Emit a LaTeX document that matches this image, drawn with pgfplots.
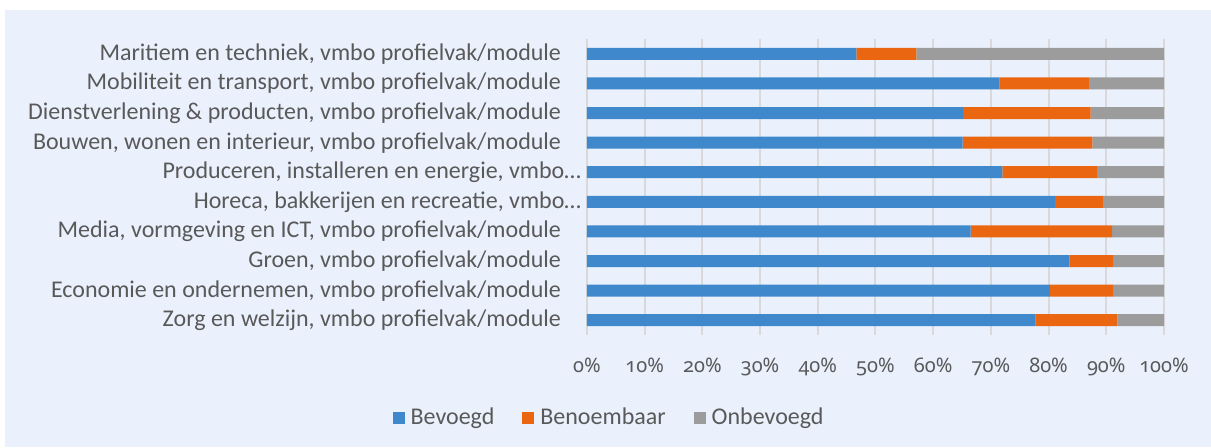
\documentclass[border=0pt]{standalone}
\usepackage{pgfplots}
\pgfplotsset{compat=1.18}
\usepackage{fontspec}
\setmainfont{Carlito}
\newfontfamily\numfont{Noto Sans}[Numbers=OldStyle]

\definecolor{bgblue}{HTML}{EAF1FD}
\definecolor{cblue}{HTML}{3F88CC}
\definecolor{corange}{HTML}{EA6610}
\definecolor{cgray}{HTML}{9C9C9C}
\definecolor{gridc}{HTML}{D9D9D9}
\definecolor{txt}{HTML}{595959}

% 1 px of the reference = 0.5pt
\newcommand{\pad}{\kern10pt}

\begin{document}
\begin{tikzpicture}
  \useasboundingbox (0,0) rectangle (605.5pt,223.5pt);
  \fill[white] (0,0) rectangle (605.5pt,223.5pt);
  \fill[bgblue] (2.5pt,0) rectangle (605.5pt,218.5pt);

  \begin{axis}[
    at={(293.5pt,56pt)}, anchor=south west,
    scale only axis, width=288.5pt, height=148pt,
    xbar stacked, bar width=6pt,
    xmin=0, xmax=100, ymin=-0.5, ymax=9.5,
    xtick={0,10,...,100},
    xticklabels={0\%,10\%,20\%,30\%,40\%,50\%,60\%,70\%,80\%,90\%,100\%},
    ytick={0,...,9},
    yticklabels={
      {Zorg en welzijn, vmbo profielvak/module\pad},
      {Economie en ondernemen, vmbo profielvak/module\pad},
      {Groen, vmbo profielvak/module\pad},
      {Media, vormgeving en ICT, vmbo profielvak/module\pad},
      {Horeca, bakkerijen en recreatie, vmbo…},
      {Produceren, installeren en energie, vmbo…},
      {Bouwen, wonen en interieur, vmbo profielvak/module\pad},
      {Dienstverlening \& producten, vmbo profielvak/module\pad},
      {Mobiliteit en transport, vmbo profielvak/module\pad},
      {Maritiem en techniek, vmbo profielvak/module\pad}},
    major tick length=0pt,
    xmajorgrids, major grid style={gridc, line width=1pt},
    axis line style={draw=none},
    yticklabel style={font=\fontsize{12pt}{14pt}\selectfont, text=txt, xshift=0.5pt},
    xticklabel style={font=\numfont\fontsize{10pt}{12pt}\selectfont, text=txt, yshift=-8pt},
    legend style={at={(0.04,-0.28)}, anchor=center, draw=none, fill=none,
      legend columns=3, font=\fontsize{12pt}{14pt}\selectfont, text=txt,
      /tikz/every odd column/.append style={column sep=1pt},
      /tikz/every even column/.append style={column sep=12pt}},
    legend image code/.code={\fill[#1] (0pt,-3pt) rectangle (6pt,3pt);},
  ]
    \addplot[fill=cblue, draw=none] coordinates {
      (77.7,0) (80.2,1) (83.6,2) (66.5,3) (81.1,4)
      (72.0,5) (65.1,6) (65.2,7) (71.5,8) (46.7,9)};
    \addplot[fill=corange, draw=none] coordinates {
      (14.2,0) (11.0,1) (7.6,2) (24.5,3) (8.3,4)
      (16.4,5) (22.5,6) (22.1,7) (15.5,8) (10.4,9)};
    \addplot[fill=cgray, draw=none] coordinates {
      (8.1,0) (8.8,1) (8.8,2) (9.0,3) (10.6,4)
      (11.6,5) (12.4,6) (12.7,7) (13.0,8) (42.9,9)};
    \legend{Bevoegd, Benoembaar, Onbevoegd}
  \end{axis}
\end{tikzpicture}
\end{document}
